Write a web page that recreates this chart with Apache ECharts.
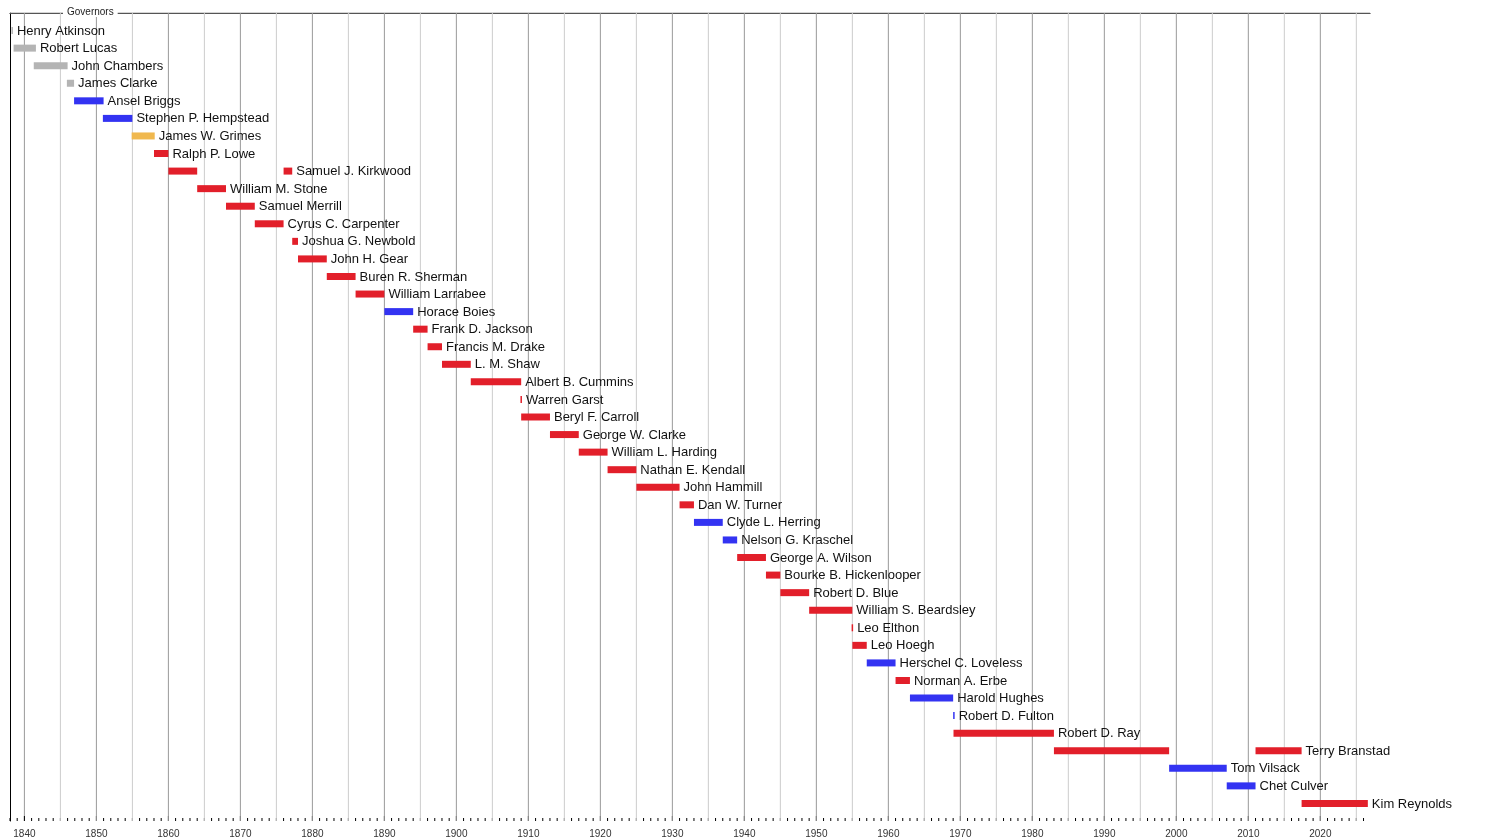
<!DOCTYPE html>
<html>
<head>
<meta charset="utf-8">
<script src="https://cdn.jsdelivr.net/npm/echarts@6/dist/echarts.min.js"></script>
<style>html,body{margin:0;padding:0;background:#fff}#chart{width:1500px;height:840px}</style>
</head>
<body>
<div id="chart"></div>
<script>
// one label per row, top to bottom
var governors = ['Henry Atkinson', 'Robert Lucas', 'John Chambers', 'James Clarke', 'Ansel Briggs',
    'Stephen P. Hempstead', 'James W. Grimes', 'Ralph P. Lowe', 'Samuel J. Kirkwood', 'William M. Stone',
    'Samuel Merrill', 'Cyrus C. Carpenter', 'Joshua G. Newbold', 'John H. Gear', 'Buren R. Sherman',
    'William Larrabee', 'Horace Boies', 'Frank D. Jackson', 'Francis M. Drake', 'L. M. Shaw',
    'Albert B. Cummins', 'Warren Garst', 'Beryl F. Carroll', 'George W. Clarke', 'William L. Harding',
    'Nathan E. Kendall', 'John Hammill', 'Dan W. Turner', 'Clyde L. Herring', 'Nelson G. Kraschel',
    'George A. Wilson', 'Bourke B. Hickenlooper', 'Robert D. Blue', 'William S. Beardsley', 'Leo Elthon',
    'Leo Hoegh', 'Herschel C. Loveless', 'Norman A. Erbe', 'Harold Hughes', 'Robert D. Fulton',
    'Robert D. Ray', 'Terry Branstad', 'Tom Vilsack', 'Chet Culver', 'Kim Reynolds'];

// terms: row index, start, end, party
var termRow   = [0, 1, 2, 3, 4, 5, 6, 7, 8, 8, 9, 10, 11, 12, 13, 14, 15, 16, 17, 18, 19, 20, 21, 22, 23, 24,
    25, 26, 27, 28, 29, 30, 31, 32, 33, 34, 35, 36, 37, 38, 39, 40, 41, 41, 42, 43, 44];
var termStart = [1838.2, 1838.5, 1841.3, 1845.9, 1846.9, 1850.9, 1854.9, 1858.0, 1860.0, 1876.0, 1864.0,
    1868.0, 1872.0, 1877.2, 1878.0, 1882.0, 1886.0, 1890.0, 1894.0, 1896.0, 1898.0, 1902.0, 1908.9, 1909.0,
    1913.0, 1917.0, 1921.0, 1925.0, 1931.0, 1933.0, 1937.0, 1939.0, 1943.0, 1945.0, 1949.0, 1954.9, 1955.0,
    1957.0, 1961.0, 1963.0, 1969.0, 1969.05, 1983.0, 2011.0, 1999.0, 2007.0, 2017.4];
var termEnd   = [1838.4, 1841.6, 1846.0, 1846.9, 1851.0, 1855.0, 1858.1, 1860.0, 1864.0, 1877.2, 1868.0,
    1872.0, 1876.0, 1878.0, 1882.0, 1886.0, 1890.0, 1894.0, 1896.0, 1898.0, 1902.0, 1909.0, 1909.1, 1913.0,
    1917.0, 1921.0, 1925.0, 1931.0, 1933.0, 1937.0, 1939.0, 1943.0, 1945.0, 1949.0, 1955.0, 1955.1, 1957.0,
    1961.0, 1963.0, 1969.0, 1969.15, 1983.0, 1999.0, 2017.4, 2007.0, 2011.0, 2026.6];
var termParty = ['none', 'none', 'none', 'none', 'dem', 'dem', 'whig', 'rep', 'rep', 'rep', 'rep', 'rep',
    'rep', 'rep', 'rep', 'rep', 'rep', 'dem', 'rep', 'rep', 'rep', 'rep', 'rep', 'rep', 'rep', 'rep', 'rep',
    'rep', 'rep', 'dem', 'dem', 'rep', 'rep', 'rep', 'rep', 'rep', 'rep', 'dem', 'rep', 'dem', 'dem', 'rep',
    'rep', 'rep', 'dem', 'dem', 'rep'];

var partyColor = { none: '#b4b4b4', dem: '#3333f2', whig: '#f0b84e', rep: '#e21f2a' };

var xMin = 1838, xMax = 2026.9, yMax = 46;

var gridYears = [];
for (var y = 1840; y <= 2025; y += 5) gridYears.push(y);

// rightmost end per row, label goes after it
var rowEnd = governors.map(function () { return 0; });
termRow.forEach(function (r, i) { rowEnd[r] = Math.max(rowEnd[r], termEnd[i]); });

var terms = termRow.map(function (r, i) {
    return [termStart[i], termEnd[i], r, termParty[i], termEnd[i] === rowEnd[r] ? governors[r] : ''];
});

var option = {
    animation: false,
    title: {
        text: 'Governors', left: 63, top: 7, padding: [0, 4],
        backgroundColor: '#fff', z: 10,
        textStyle: { fontSize: 10, fontWeight: 'normal', color: '#222', fontFamily: 'Liberation Sans' }
    },
    grid: { left: 10, right: 130, top: 13, bottom: 19 },
    xAxis: {
        type: 'value', min: xMin, max: xMax, interval: 1,
        axisLine: { lineStyle: { color: '#000', width: 1 } },
        axisTick: { show: false },
        axisLabel: {
            fontSize: 10, color: '#333', fontFamily: 'Liberation Sans', margin: 8,
            formatter: function (v) { return v % 10 === 0 ? String(v) : ''; }
        },
        splitLine: { show: false }
    },
    yAxis: {
        type: 'value', min: 0, max: yMax, inverse: true,
        axisLine: { show: true, lineStyle: { color: '#000' } },
        axisTick: { show: false }, axisLabel: { show: false }, splitLine: { show: false }
    },
    series: [{
        type: 'custom',
        silent: true,
        data: gridYears.map(function (g) { return [g]; }),
        renderItem: function (params, api) {
            var yr = api.value(0);
            var p0 = api.coord([yr, 0]);
            var p1 = api.coord([yr, yMax]);
            var children = [{
                type: 'line',
                shape: { x1: p0[0], y1: p0[1], x2: p1[0], y2: p1[1] },
                style: { stroke: yr % 10 === 0 ? '#999' : '#ccc', lineWidth: 1 }
            }];
            if (params.dataIndex === 0) {
                // top frame line and yearly ticks along the bottom axis
                var l = api.coord([xMin, 0]), r = api.coord([xMax, 0]);
                children.push({ type: 'line', shape: { x1: l[0], y1: l[1], x2: r[0], y2: r[1] },
                    style: { stroke: '#aaa', lineWidth: 1 } });
                for (var t = 1838; t <= 2026; t++) {
                    var b = api.coord([t, yMax]);
                    var len = t % 10 === 0 ? 5 : 3;
                    children.push({ type: 'line', shape: { x1: b[0], y1: b[1], x2: b[0], y2: b[1] - len },
                        style: { stroke: '#000', lineWidth: 1 } });
                }
            }
            return { type: 'group', children: children };
        }
    }, {
        type: 'custom',
        data: terms,
        renderItem: function (params, api) {
            var t = terms[params.dataIndex];
            var a = api.coord([t[0], t[2] + 1]);
            var b = api.coord([t[1], t[2] + 1]);
            var w = Math.max(b[0] - a[0], 1.5);
            var children = [{
                type: 'rect',
                shape: { x: a[0], y: a[1] - 3.5, width: w, height: 7 },
                style: { fill: partyColor[t[3]] }
            }];
            if (t[4]) {
                children.push({
                    type: 'text',
                    style: {
                        text: t[4], x: a[0] + w + 4, y: a[1] + 0.5,
                        verticalAlign: 'middle', align: 'left',
                        font: '13px "Liberation Sans"', fill: '#111'
                    }
                });
            }
            return { type: 'group', children: children };
        }
    }]
};

var myChart = echarts.init(document.getElementById('chart'));
myChart.setOption(option);
</script>
</body>
</html>
